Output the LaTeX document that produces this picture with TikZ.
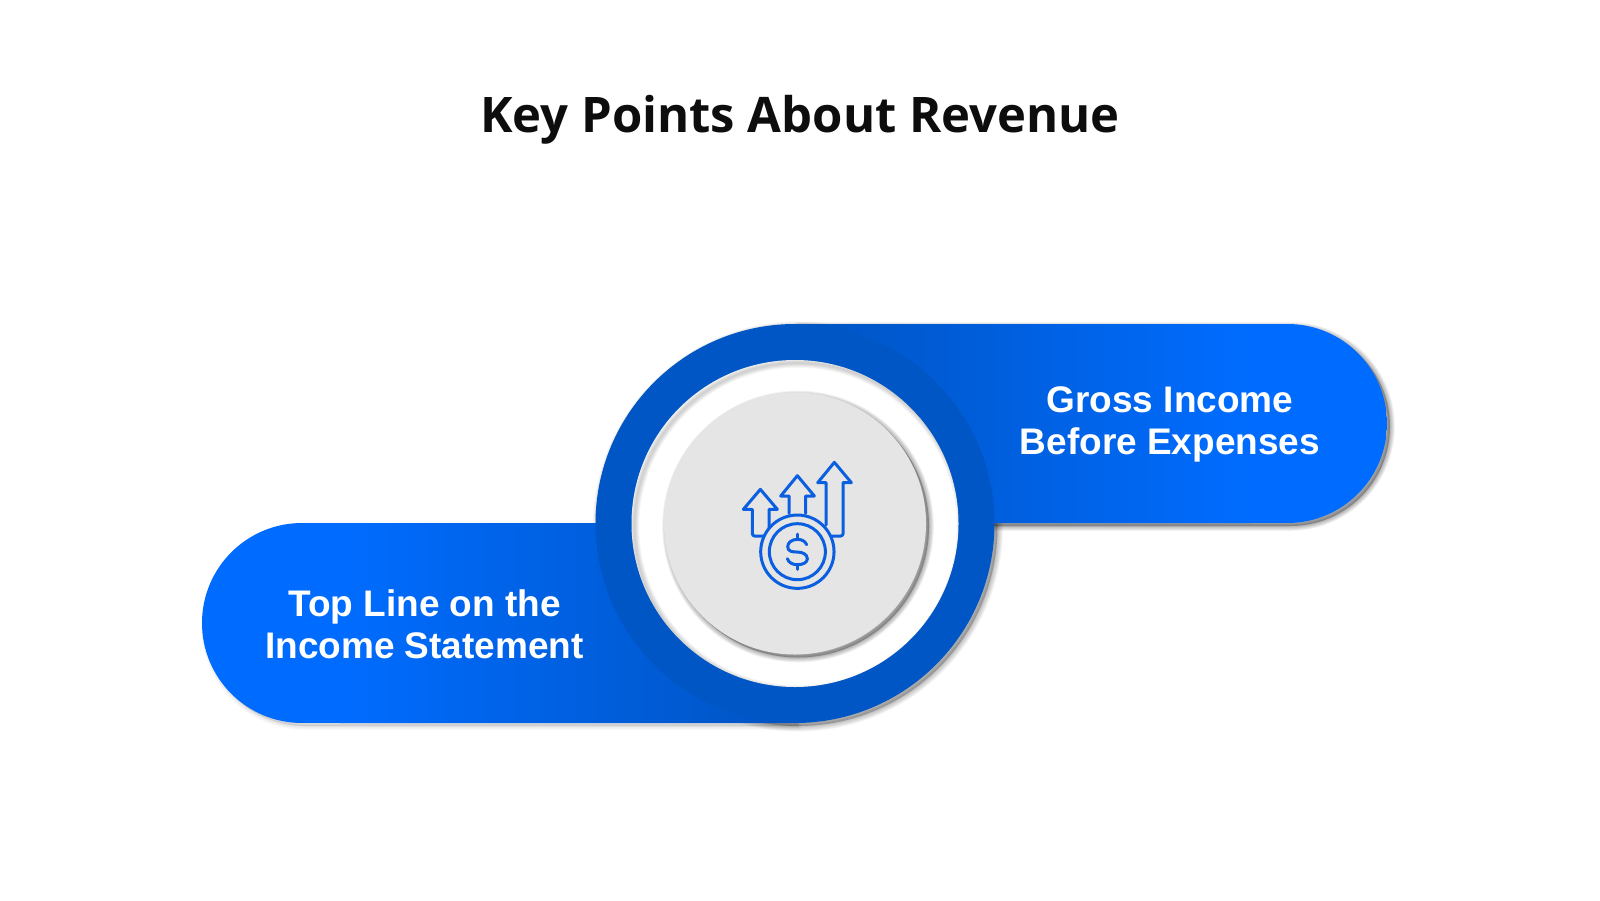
\documentclass[tikz,border=0pt]{standalone}
\usepackage{fontspec}
\setmainfont{Open Sans}
\newfontfamily\bodyfont{Liberation Sans}
\definecolor{ringblue}{HTML}{0056C4}
\definecolor{pillbright}{HTML}{006CFF}
\definecolor{pilldark}{HTML}{0054C2}
\definecolor{discgrey}{HTML}{E5E5E5}
\definecolor{iconblue}{HTML}{0A5FE0}
\tikzset{
  titletext/.style={font=\bfseries\fontsize{24.5}{28}\selectfont,text=black!95,inner sep=0pt},
  pilltext/.style={font=\bodyfont\bfseries\fontsize{18.5}{21}\selectfont,text=white,align=center,inner sep=0pt},
  iconline/.style={draw=iconblue,line width=1.5pt,line cap=round,line join=round},
}
% soft shadow: stacked translucent strokes of a path
\newcommand{\softshade}[3]{%
  \foreach \w in {1,2,...,#3}{%
    \fill[black,opacity=#2,draw=black,line width=\w*0.8pt,line join=round] #1;
  }%
}
\begin{document}
\begin{tikzpicture}[x=0.5pt,y=-0.5pt]
\useasboundingbox (0,0) rectangle (1600,900);
\fill[white] (0,0) rectangle (1600,900);

\node[titletext] (title) at (800,120) {Key Points About Revenue};

% pill shadows
\begin{scope}[shift={(3,3)}]
  \softshade{(795,324) -- (1287.5,324) arc[start angle=-90,end angle=90,radius=99.5] -- (795,523) -- cycle}{0.05}{6}
  \softshade{(795,723) -- (302,723) arc[start angle=90,end angle=270,radius=100] -- (795,523) -- cycle}{0.02}{5}
  \softshade{(795,523.5) circle[radius=199.5]}{0.035}{7}
\end{scope}

% right pill
\begin{scope}
  \clip (795,324) -- (1287.5,324) arc[start angle=-90,end angle=90,radius=99.5] -- (795,523) -- cycle;
  \shade[left color=pilldark,right color=pillbright] (795,324) rectangle (1250,523);
  \fill[pillbright] (1249,324) rectangle (1387,523);
\end{scope}
% left pill
\begin{scope}
  \clip (795,723) -- (302,723) arc[start angle=90,end angle=270,radius=100] -- (795,523) -- cycle;
  \shade[left color=pillbright,right color=pilldark] (340,523) rectangle (795,723);
  \fill[pillbright] (202,523) rectangle (341,723);
\end{scope}

% ring, white disc with inner shade, grey disc
\fill[ringblue] (795,523.5) circle[radius=199.5];
\fill[white] (795,523.5) circle[radius=163.5];
\begin{scope}
  \clip (795,523.5) circle[radius=163.5];
  \foreach \w in {1,2,...,6}{
    \draw[black,opacity=0.03,line width=\w*0.8pt] (798,526.5) circle[radius=163.5];
  }
\end{scope}
\begin{scope}[shift={(3,3)}]
  \softshade{(795,523.5) circle[radius=131]}{0.05}{6}
\end{scope}
\fill[discgrey] (795,523.5) circle[radius=131];

% icon, drawn in the 3x crop coordinates
\begin{scope}[shift={(700,430)},x=0.1667pt,y=-0.1667pt]
  \draw[iconline] (292,365) circle[radius=110];
  \draw[iconline] (292,365) circle[radius=84];
  % left arrow
  \draw[iconline] (190,318) -- (164,318) arc[start angle=90,end angle=180,radius=7] -- (157,238) -- (130,238) -- (181,178) -- (232,238) -- (207,238) -- (207,295);
  % middle arrow
  \draw[iconline] (267,250) -- (267,198) -- (242,198) -- (292,137) -- (343,198) -- (317,198) -- (317,250);
  % right arrow
  \draw[iconline] (378,285) -- (378,158) -- (353,158) -- (403,97) -- (454,158) -- (429,158) -- (429,311) arc[start angle=0,end angle=90,radius=7] -- (395,318);
  % dollar sign
  \draw[iconline] (320,344) .. controls (315,333) and (305,328) .. (292,328)
     .. controls (275,328) and (263,338) .. (263,350)
     .. controls (263,365) and (278,366) .. (292,366)
     .. controls (306,366) and (322,372) .. (322,386)
     .. controls (322,398) and (308,404) .. (292,404)
     .. controls (278,404) and (266,398) .. (262,386);
  \draw[iconline] (292,312) -- (292,328);
  \draw[iconline] (292,404) -- (292,418);
\end{scope}

\node[pilltext] (gross) at (1170,424) {Gross Income\\Before Expenses};
\node[pilltext] (topline) at (424.5,624) {Top Line on the\\Income Statement};
\end{tikzpicture}
\end{document}
